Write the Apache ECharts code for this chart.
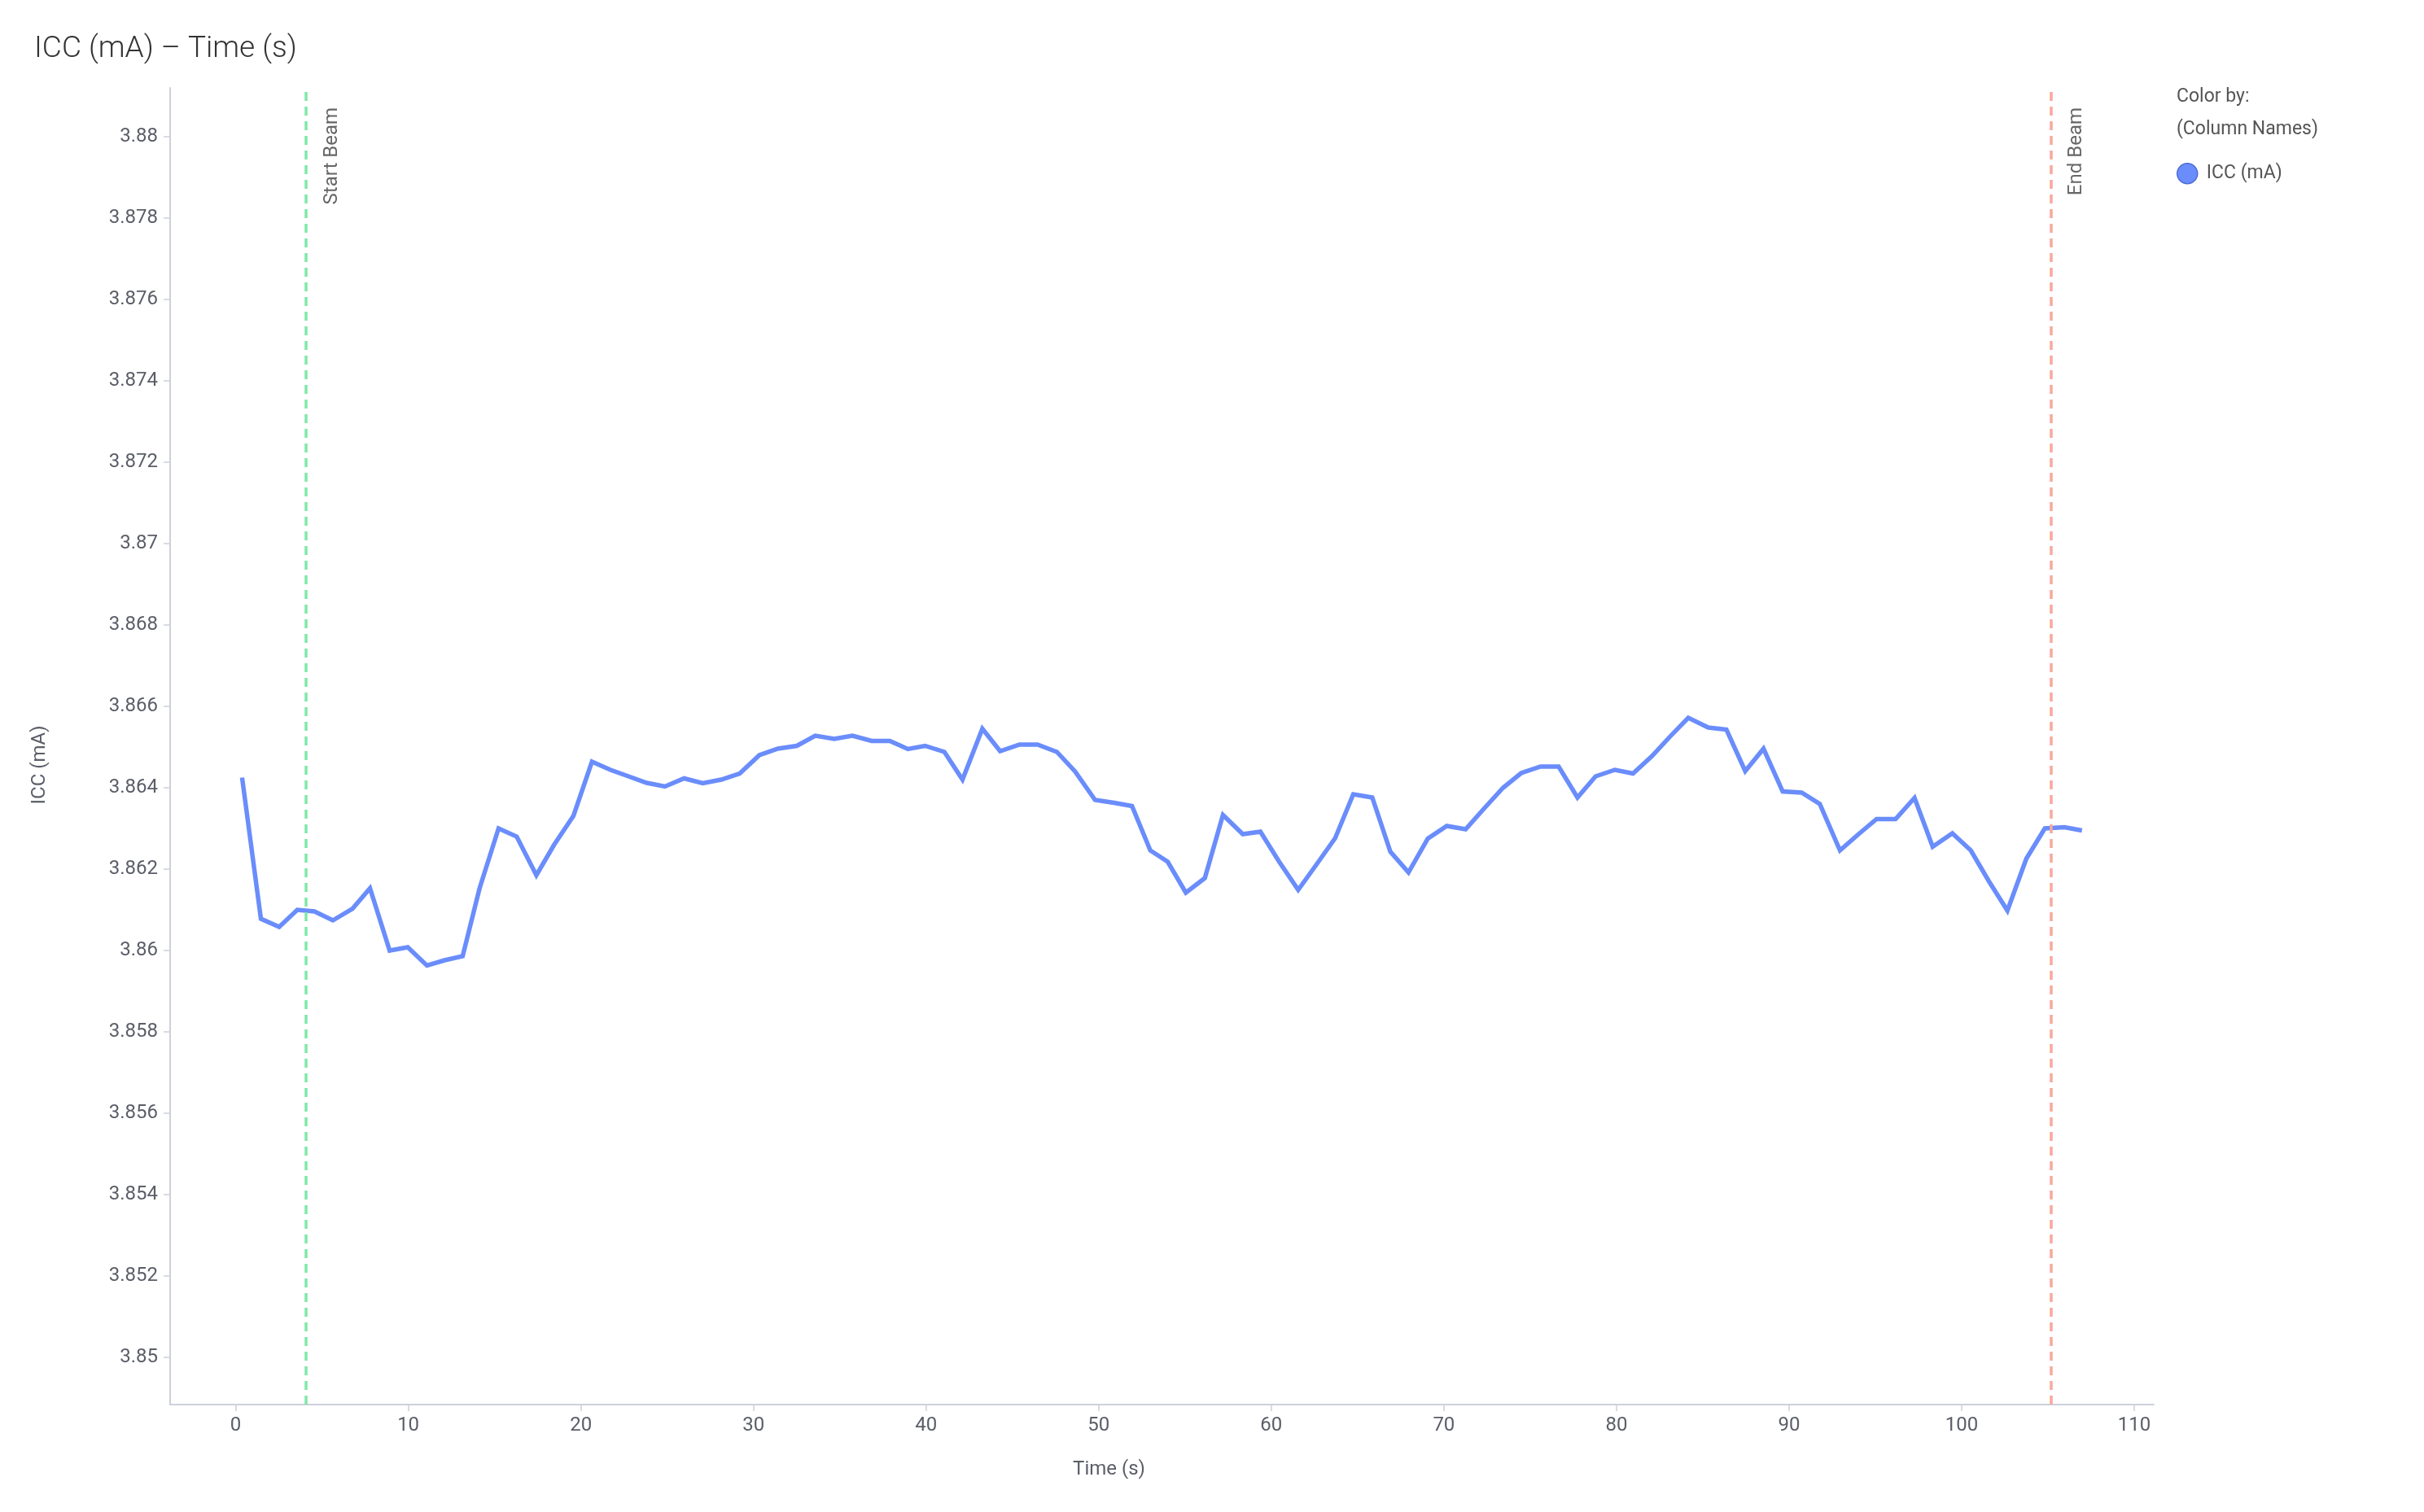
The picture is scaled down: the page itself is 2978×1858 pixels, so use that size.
<!DOCTYPE html>
<html>
<head>
<meta charset="utf-8">
<title>ICC (mA) – Time (s)</title>
<script src="https://cdn.jsdelivr.net/npm/echarts@6/dist/echarts.min.js"></script>
<style>
  html, body { margin: 0; padding: 0; background: #fff; }
  #chart { width: 2978px; height: 1858px; }
</style>
</head>
<body>
<div id="chart"></div>
<script>
// time stamps (s)
const timeS = [
  0.37, 1.46, 2.52, 3.57, 4.56, 5.63, 6.77, 7.78, 8.92, 9.97,
  11.08, 12.1, 13.15, 14.13, 15.23, 16.28, 17.42, 18.45, 19.57, 20.64,
  21.71, 22.76, 23.81, 24.87, 25.98, 27.06, 28.13, 29.2, 30.34, 31.41,
  32.51, 33.58, 34.68, 35.73, 36.85, 37.9, 38.95, 39.94, 41.06, 42.11,
  43.26, 44.29, 45.41, 46.46, 47.58, 48.63, 49.79, 50.89, 51.93, 52.99,
  54.0, 55.05, 56.15, 57.2, 58.35, 59.37, 60.46, 61.56, 62.63, 63.7,
  64.75, 65.85, 66.9, 67.95, 69.07, 70.17, 71.26, 72.31, 73.43, 74.48,
  75.6, 76.65, 77.74, 78.79, 79.91, 80.96, 82.06, 83.11, 84.16, 85.32,
  86.37, 87.46, 88.52, 89.63, 90.73, 91.78, 92.95, 94.0, 95.07, 96.17,
  97.27, 98.32, 99.46, 100.53, 101.58, 102.65, 103.75, 104.82, 105.95, 106.97
];
// ICC (mA)
const iccValues = [
  3.86424, 3.86077, 3.86057, 3.86099, 3.86095, 3.86073, 3.86102, 3.86152, 3.85999, 3.86007,
  3.85962, 3.85975, 3.85985, 3.86152, 3.86299, 3.86279, 3.86184, 3.86259, 3.8633, 3.86463,
  3.86443, 3.86427, 3.86411, 3.86402, 3.86422, 3.8641, 3.86419, 3.86434, 3.86479, 3.86495,
  3.86502, 3.86527, 3.86519, 3.86527, 3.86514, 3.86514, 3.86494, 3.86502, 3.86487, 3.86419,
  3.86544, 3.86489, 3.86505, 3.86505, 3.86487, 3.86439, 3.86369, 3.86362, 3.86354, 3.86245,
  3.86217, 3.86141, 3.86177, 3.86332, 3.86285, 3.86291, 3.86217, 3.86148, 3.86211, 3.86275,
  3.86383, 3.86375, 3.86242, 3.86191, 3.86274, 3.86305, 3.86297, 3.86347, 3.86399, 3.86435,
  3.86451, 3.86451, 3.86375, 3.86427, 3.86443, 3.86434, 3.86477, 3.86525, 3.86571, 3.86547,
  3.86542, 3.8644, 3.86495, 3.8639, 3.86387, 3.86359, 3.86245, 3.86284, 3.86322, 3.86322,
  3.86374, 3.86254, 3.86287, 3.86245, 3.86169, 3.86097, 3.86225, 3.86299, 3.86302, 3.86294
];
const startBeam = 4.06;
const endBeam = 105.16;

const xTicks = [0, 10, 20, 30, 40, 50, 60, 70, 80, 90, 100, 110];
const yTicks = [3.85, 3.852, 3.854, 3.856, 3.858, 3.86, 3.862, 3.864, 3.866,
                3.868, 3.87, 3.872, 3.874, 3.876, 3.878, 3.88];

const FONT = 'Roboto, "Noto Sans", sans-serif';
const AXIS_COLOR = '#cdd0dc';
const LABEL_COLOR = '#5b5e68';

const chart = echarts.init(document.getElementById('chart'), null, { renderer: 'canvas' });

const beamLabel = {
  position: 'insideEndBottom',
  distance: [24, 20],
  fontFamily: FONT,
  fontSize: 24,
  color: '#666'
};

const option = {
  backgroundColor: '#fff',
  animation: false,
  textStyle: { fontFamily: FONT },
  title: [
    {
      text: 'ICC (mA) – Time (s)',
      left: 42, top: 42, padding: 0,
      textStyle: { fontFamily: FONT, fontSize: 37, fontWeight: 300, color: '#333' }
    },
    {
      text: 'Color by:\n(Column Names)',
      left: 2674, top: 99, padding: 0,
      textStyle: { fontFamily: FONT, fontSize: 23, fontWeight: 400, color: '#555', lineHeight: 40 }
    }
  ],
  legend: {
    data: ['ICC (mA)'],
    left: 2674, top: 200,
    padding: 0,
    orient: 'vertical',
    icon: 'circle',
    itemWidth: 25, itemHeight: 25,
    textStyle: { fontFamily: FONT, fontSize: 23, color: '#555', padding: [0, 0, 0, 6] },
    itemStyle: { borderColor: '#4b6cd6', borderWidth: 1.5 }
  },
  grid: { left: 209, right: 332, top: 108, bottom: 132 },
  xAxis: {
    type: 'value',
    min: -3.8, max: 111.13,
    name: 'Time (s)',
    nameLocation: 'middle',
    nameGap: 68,
    nameTextStyle: { fontFamily: FONT, fontSize: 24, color: LABEL_COLOR, padding: [0, 130, 0, 0] },
    axisLine: { show: true, onZero: false, lineStyle: { color: AXIS_COLOR, width: 2 } },
    axisTick: { show: true, length: 8, lineStyle: { color: AXIS_COLOR, width: 1.5 }, customValues: xTicks },
    axisLabel: { fontSize: 24, color: LABEL_COLOR, margin: 14, customValues: xTicks },
    splitLine: { show: false }
  },
  yAxis: {
    type: 'value',
    min: 3.84883, max: 3.88119,
    name: 'ICC (mA)',
    nameLocation: 'middle',
    nameGap: 148,
    nameTextStyle: { fontFamily: FONT, fontSize: 24, color: LABEL_COLOR, padding: [0, 46, 0, 0] },
    axisLine: { show: true, onZero: false, lineStyle: { color: AXIS_COLOR, width: 2 } },
    axisTick: { show: true, length: 8, lineStyle: { color: AXIS_COLOR, width: 1.5 }, customValues: yTicks },
    axisLabel: {
      fontSize: 24, color: LABEL_COLOR, margin: 15, customValues: yTicks,
      formatter: v => String(+v.toFixed(3))
    },
    splitLine: { show: false }
  },
  series: [
    {
      name: 'ICC (mA)',
      type: 'line',
      data: timeS.map((t, i) => [t, iccValues[i]]),
      showSymbol: false,
      symbol: 'circle',
      color: '#6a8dfb',
      lineStyle: { color: '#6a8dfb', width: 5.5, join: 'miter' },
      markLine: {
        silent: true,
        symbol: 'none',
        animation: false,
        data: [
          {
            xAxis: startBeam,
            lineStyle: { color: '#7fe8a7', type: [11, 7], width: 3.5 },
            label: Object.assign({ formatter: 'Start Beam' }, beamLabel)
          },
          {
            xAxis: endBeam,
            lineStyle: { color: '#f9a89c', type: [11, 7], width: 3.5 },
            label: Object.assign({ formatter: 'End Beam' }, beamLabel)
          }
        ]
      }
    }
  ]
};

chart.setOption(option);
</script>
</body>
</html>
